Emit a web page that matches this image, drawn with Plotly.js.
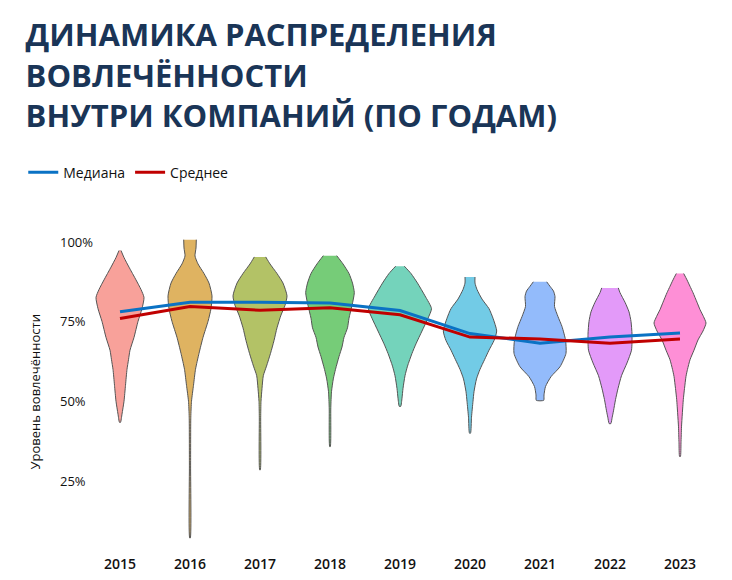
<!DOCTYPE html>
<html>
<head>
<meta charset="utf-8">
<script src="https://cdn.plot.ly/plotly-3.0.1.min.js"></script>
<style>
  html, body { margin: 0; padding: 0; background: #fff; }
  #chart { width: 732px; height: 580px; }
</style>
</head>
<body>
<div id="chart"></div>
<script>
// years on the x axis
const years = ["2015", "2016", "2017", "2018", "2019", "2020", "2021", "2022", "2023"];

// median and mean engagement per year, %
const medianVals = [78.0, 81.0, 81.0, 80.8, 78.4, 71.2, 68.2, 70.1, 71.4];
const meanVals = [75.9, 79.7, 78.5, 79.3, 77.1, 70.1, 69.5, 68.2, 69.5];

// violin outlines: level (%) from top to bottom, and density (half width)
const lvl2015 = [97.2, 95, 92, 88, 85, 82.5, 79, 75, 70, 66, 63, 60, 55, 50, 46, 43.4];
const den2015 = [1, 4, 9, 16, 21, 24, 22, 18, 14, 10, 8.5, 7, 5.5, 4, 2, 0.5];

const lvl2016 = [100.6, 98, 95.5, 93, 90, 87, 83, 79, 75, 70, 65, 60, 55, 50, 45, 30, 7.2];
const den2016 = [6.3, 6, 5, 8, 14, 19, 22, 21, 18, 13, 9, 5.5, 3.5, 1.5, 0.8, 0.6, 0.3];

const lvl2017 = [95.2, 93, 90, 87, 83, 80, 77, 73, 69, 65, 61, 58, 54, 50, 45, 28.5];
const den2017 = [5.7, 10, 17, 23, 27, 25, 21, 17, 14, 10.5, 6.5, 3.3, 2, 1, 0.7, 0.3];

const lvl2018 = [95.6, 93, 90, 87, 84, 80, 76, 73, 70, 67, 64, 60, 57, 53, 48, 35.8];
const den2018 = [6.7, 13, 19, 22.5, 24.3, 22, 19, 17.5, 14, 12, 9, 5.5, 3.3, 1.5, 0.8, 0.3];

const lvl2019 = [92.3, 90, 87, 83, 79, 76, 72, 68, 65, 61, 58, 54, 51, 48.4];
const den2019 = [4.3, 11, 17.5, 25, 31.5, 28, 22, 16, 12, 7.5, 5, 3, 2, 0.7];

const lvl2020 = [88.9, 87, 85, 82, 79, 76, 72, 69, 66, 63, 60, 57, 53, 50, 45, 40];
const den2020 = [5, 5, 7, 12, 19, 23, 26.7, 24, 19, 14.5, 10, 6.5, 4, 3, 1.5, 0.5];

const lvl2021 = [87.4, 86, 84.5, 82.8, 79.7, 76.5, 73.4, 69.2, 65, 60.8, 57.7, 54.6, 52, 50.3];
const den2021 = [6.7, 10, 13.5, 15, 14.5, 18, 22, 25.5, 26, 20, 11, 5.5, 4, 3.7];

const lvl2022 = [85.5, 84, 81, 78, 75, 71, 66, 62, 58, 54, 50.5, 47, 45, 43];
const den2022 = [8.3, 10, 15, 19, 21, 22, 21.5, 17, 11.5, 8, 5.5, 3.5, 2.2, 0.8];

const lvl2023 = [90, 88, 86, 84, 81, 78.7, 76.5, 74.5, 72, 69.2, 66, 63, 60, 57.8, 54, 50.5, 46, 42, 37, 32.7];
const den2023 = [3.7, 7, 10, 13, 17, 20, 23.5, 26, 23, 18, 14, 10, 7.5, 6, 4.5, 3.3, 2.3, 1.5, 1, 0.4];

const levels = [lvl2015, lvl2016, lvl2017, lvl2018, lvl2019, lvl2020, lvl2021, lvl2022, lvl2023];
const densities = [den2015, den2016, den2017, den2018, den2019, den2020, den2021, den2022, den2023];

const violinColors = ["#f8a19a", "#dfb361", "#b3c266", "#76cc78", "#74d3bb",
                      "#72cbe6", "#93bbfb", "#e39af9", "#fe8fd6"];

// y tick labels
const tickVals = [100, 75, 50, 25];
const tickText = ["100%", "75%", "50%", "25%"];

// density -> half width in category units
const widthScale = 1 / 70;

/**
 * Build one closed violin outline as a filled scatter trace.
 */
function violinTrace(i) {
    const lv = levels[i];
    const dn = densities[i];
    const xs = [];
    const ys = [];
    // right side, top to bottom
    for (let k = 0; k < lv.length; k++) {
        xs.push(i + dn[k] * widthScale);
        ys.push(lv[k]);
    }
    // left side, bottom to top
    for (let k = lv.length - 1; k >= 0; k--) {
        xs.push(i - dn[k] * widthScale);
        ys.push(lv[k]);
    }
    return {
        x: xs,
        y: ys,
        mode: "lines",
        fill: "toself",
        fillcolor: violinColors[i],
        line: { color: "#555", width: 1, shape: "spline", smoothing: 0.6 },
        hoverinfo: "skip",
        showlegend: false
    };
}

const idx = years.map((_, i) => i);
const data = idx.map(violinTrace);

data.push({
    x: idx,
    y: medianVals,
    mode: "lines",
    name: "Медиана",
    line: { color: "#0a72c4", width: 3 }
});
data.push({
    x: idx,
    y: meanVals,
    mode: "lines",
    name: "Среднее",
    line: { color: "#c00000", width: 3 }
});

const annotations = tickVals.map((v, k) => ({
    x: -0.031, xref: "paper", xanchor: "left",
    y: v, yref: "y", yanchor: "middle",
    text: tickText[k], showarrow: false,
    font: { family: "Open Sans", size: 13, color: "#111" }
}));
annotations.push({
    x: -0.067, xref: "paper", xanchor: "center",
    y: 0.49, yref: "paper", yanchor: "middle",
    text: "Уровень вовлечённости", textangle: -90, showarrow: false,
    font: { family: "Open Sans", size: 13, color: "#111" }
});

const layout = {
    width: 732,
    height: 580,
    margin: { l: 78, r: 10, t: 232, b: 35 },
    paper_bgcolor: "#fff",
    plot_bgcolor: "#fff",
    font: { family: "Open Sans", color: "#111" },
    title: {
        text: "ДИНАМИКА РАСПРЕДЕЛЕНИЯ<br>ВОВЛЕЧЁННОСТИ<br>ВНУТРИ КОМПАНИЙ (ПО ГОДАМ)",
        font: { family: "Open Sans", size: 31, color: "#1a3557", weight: "bold" },
        x: 0.035, xref: "container", xanchor: "left",
        y: 0.92, yref: "container", yanchor: "top"
    },
    showlegend: true,
    legend: {
        orientation: "h",
        x: -0.085, xanchor: "left",
        y: 1.19, yanchor: "middle",
        font: { family: "Open Sans", size: 14, color: "#111" },
        itemwidth: 30
    },
    xaxis: {
        range: [-0.6, 8.6],
        tickvals: idx,
        ticktext: years,
        showgrid: false,
        zeroline: false,
        showline: false,
        ticks: "",
        ticklabelstandoff: 9,
        tickfont: { family: "Open Sans", size: 14, color: "#111", weight: 600 },
        fixedrange: true
    },
    yaxis: {
        range: [5, 103],
        tickvals: tickVals,
        showticklabels: false,
        showgrid: false,
        zeroline: false,
        showline: false,
        ticks: "",
        fixedrange: true
    },
    annotations: annotations
};

Plotly.newPlot("chart", data, layout, { displayModeBar: false, staticPlot: true });
</script>
</body>
</html>
